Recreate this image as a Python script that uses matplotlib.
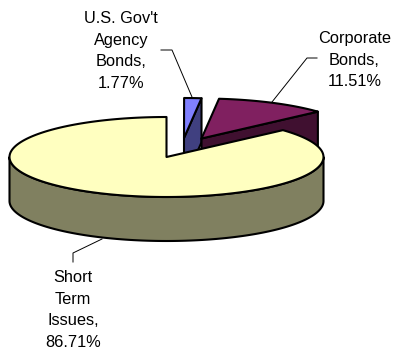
import numpy as np
import matplotlib
matplotlib.use('Agg')
import matplotlib.pyplot as plt
from matplotlib.patches import Polygon

categories = ["U.S. Gov't\nAgency\nBonds,", "Corporate\nBonds,", "Short\nTerm\nIssues,"]
shares = [1.77, 11.51, 86.71]
top_colours = ['#8080FF', '#802060', '#FFFFC0']
side_colours = ['#404080', '#401030', '#808060']

plt.rcParams['font.family'] = ['Liberation Sans', 'DejaVu Sans']

cx, cy = 166.5, 157.0
rx, ry = 157.0, 40.0
depth = 44.0
edge_lw = 1.5

# exploded slices are pushed away from the centre, in pixels
offsets = [(17.5, -19), (35, -18.5), (0, 0)]

fig = plt.figure(figsize=(3.95, 3.49), dpi=100)
ax = fig.add_axes([0, 0, 1, 1])
ax.set_xlim(0, 395)
ax.set_ylim(349, 0)
ax.axis('off')


def rim(a0, a1, dx=0.0, dy=0.0, drop=0.0):
    t = np.radians(np.linspace(a0, a1, 200))
    return np.column_stack((cx + dx + rx*np.cos(t), cy + dy - ry*np.sin(t) + drop))


def add_poly(pts, colour, z):
    ax.add_patch(Polygon(pts, closed=True, facecolor=colour, edgecolor='k',
                         lw=edge_lw, joinstyle='round', zorder=z))


# slices run clockwise from 12 o'clock, starting with the largest one
start = 90.0
angles = {}
for i in [2, 1, 0]:
    end = start + shares[i]*3.6
    angles[i] = (start, end)
    start = end

for i in [0, 1]:
    a0 = angles[i][0]
    dx, dy = offsets[i]
    apex = (cx + dx, cy + dy)
    p = rim(a0, a0, dx, dy)[0]
    # cut face below the lower edge of the slice
    add_poly([apex, p, (p[0], p[1] + depth), (apex[0], apex[1] + depth)],
             side_colours[i], 1)

# rim wall of the big slice, front half only
front_top = rim(180, 360)
front_bottom = rim(180, 360, drop=depth)
add_poly(np.vstack((front_top, front_bottom[::-1])), side_colours[2], 2)

for i in [2, 1, 0]:
    a0, a1 = angles[i]
    dx, dy = offsets[i]
    add_poly(np.vstack(([(cx + dx, cy + dy)], rim(a0, a1, dx, dy))), top_colours[i], 3)

# leader lines
ax.plot([161, 172, 192], [50, 50, 97], color='k', lw=0.7, zorder=4)
ax.plot([317, 307, 272], [58, 58, 102], color='k', lw=0.7, zorder=4)
ax.plot([102, 73, 73], [239, 253, 262], color='k', lw=0.7, zorder=4)

# labels are set line by line, first baseline and centre x for each
label_pos = [(121, 23), (354.5, 43), (73, 282)]
line_step = 21.6
for name, val, (x, y) in zip(categories, shares, label_pos):
    lines = name.split('\n') + ['%.2f%%' % val]
    for n, line in enumerate(lines):
        ax.text(x, y + n*line_step, line, ha='center', va='baseline',
                fontsize=11.8, color='k', zorder=5)

fig.savefig('out.png', dpi=100, facecolor='white')
